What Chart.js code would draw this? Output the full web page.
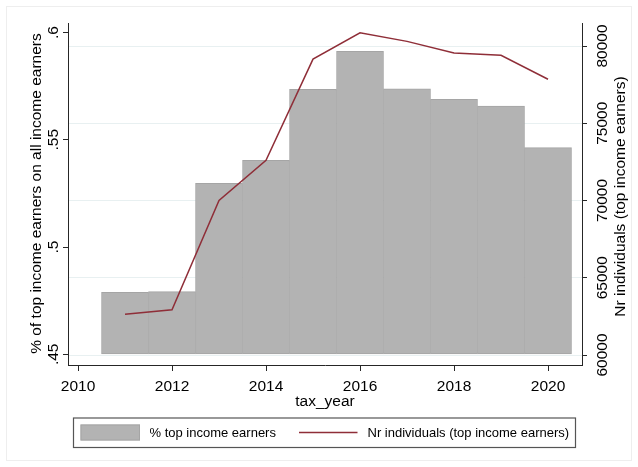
<!DOCTYPE html>
<html>
<head>
<meta charset="utf-8">
<title>Top income earners</title>
<script src="https://cdn.jsdelivr.net/npm/chart.js@4.4.0/dist/chart.umd.min.js"></script>
<style>
  body { margin: 0; background: #fff; }
  #wrap { width: 638px; height: 467px; }
</style>
</head>
<body>
<div id="wrap"><canvas id="chart" width="638" height="467"></canvas></div>
<script>
// tax years and the two series
const years = [2011, 2012, 2013, 2014, 2015, 2016, 2017, 2018, 2019, 2020];
const shareTop = [0.4789, 0.4792, 0.5297, 0.5404, 0.5735, 0.5912, 0.5738, 0.5689, 0.5657, 0.5463];
const nrTop = [62630, 62930, 70000, 72600, 79150, 80850, 80300, 79550, 79400, 77850];

// axis ticks
const yearTicks = [2010, 2012, 2014, 2016, 2018, 2020];
const shareTicks = [0.45, 0.5, 0.55, 0.6];
const shareTickLabels = ['.45', '.5', '.55', '.6'];
const nrTicks = [60000, 65000, 70000, 75000, 80000];

const shareLabel = '% top income earners';
const nrLabel = 'Nr individuals (top income earners)';
const leftTitle = '% of top income earners on all income earners';
const rightTitle = 'Nr individuals (top income earners)';
const xTitle = 'tax_year';

const FONT = "'Liberation Sans', Arial, Helvetica, sans-serif";
const AXIS = '#262626';
const GRID = '#e8f0f1';
const BAR_FILL = '#b3b3b3';
const BAR_EDGE = '#a5a5a5';
const LINE = '#8f2e38';

// white page with the faint outer frame
const background = {
  id: 'background',
  beforeDraw(chart) {
    const ctx = chart.ctx;
    ctx.save();
    ctx.fillStyle = '#fff';
    ctx.fillRect(0, 0, chart.width, chart.height);
    ctx.strokeStyle = '#eeeeee';
    ctx.lineWidth = 1;
    ctx.strokeRect(6.5, 6.5, chart.width - 13, chart.height - 13);
    ctx.restore();
  }
};

// tick labels and titles, y ones turned to read bottom-up
const axisText = {
  id: 'axisText',
  afterDraw(chart) {
    const ctx = chart.ctx;
    const { x, yL, yR } = chart.scales;
    ctx.save();
    ctx.fillStyle = '#000';
    ctx.font = '15.5px ' + FONT;
    ctx.textAlign = 'center';
    ctx.textBaseline = 'alphabetic';

    yearTicks.forEach(v => ctx.fillText(String(v), x.getPixelForValue(v), 390.5));
    ctx.fillText(xTitle, (x.left + x.right) / 2, 406);

    const upText = (txt, bx, cy) => {
      ctx.save();
      ctx.translate(bx, cy);
      ctx.rotate(-Math.PI / 2);
      ctx.fillText(txt, 0, 0);
      ctx.restore();
    };
    shareTicks.forEach((v, i) => upText(shareTickLabels[i], 57.5, yL.getPixelForValue(v)));
    nrTicks.forEach(v => upText(String(v), 607, yR.getPixelForValue(v)));
    upText(leftTitle, 40.5, 193.5);
    upText(rightTitle, 624.5, 196.5);
    ctx.restore();
  }
};

// boxed legend under the plot
const boxLegend = {
  id: 'boxLegend',
  afterDraw(chart) {
    const ctx = chart.ctx;
    const bars = chart.data.datasets[1];
    const line = chart.data.datasets[0];
    ctx.save();
    ctx.strokeStyle = '#555';
    ctx.lineWidth = 1.2;
    ctx.strokeRect(73.5, 418, 502, 29.5);

    ctx.fillStyle = bars.backgroundColor;
    ctx.fillRect(80.5, 424.5, 59.5, 16);
    ctx.strokeStyle = bars.borderColor;
    ctx.lineWidth = 1;
    ctx.strokeRect(81, 425, 58.5, 15);

    ctx.strokeStyle = line.borderColor;
    ctx.lineWidth = 1.3;
    ctx.beginPath();
    ctx.moveTo(299, 432.5);
    ctx.lineTo(357.5, 432.5);
    ctx.stroke();

    ctx.fillStyle = '#000';
    ctx.font = '13px ' + FONT;
    ctx.textBaseline = 'middle';
    ctx.textAlign = 'left';
    ctx.fillText(bars.label, 149.5, 433);
    ctx.fillText(line.label, 367.5, 433);
    ctx.restore();
  }
};

const ticksFrom = arr => scale => { scale.ticks = arr.map(v => ({ value: v })); };

new Chart(document.getElementById('chart'), {
  data: {
    datasets: [
      {
        type: 'line',
        label: nrLabel,
        data: years.map((y, i) => ({ x: y, y: nrTop[i] })),
        xAxisID: 'x',
        yAxisID: 'yR',
        borderColor: LINE,
        borderWidth: 1.5,
        pointRadius: 0,
        tension: 0,
        fill: false,
        order: 0
      },
      {
        type: 'bar',
        label: shareLabel,
        data: years.map((y, i) => ({ x: y, y: shareTop[i] })),
        xAxisID: 'x',
        yAxisID: 'yL',
        base: 0.45,
        backgroundColor: BAR_FILL,
        borderColor: BAR_EDGE,
        borderWidth: 1,
        borderSkipped: false,
        barPercentage: 1,
        categoryPercentage: 1,
        order: 1
      }
    ]
  },
  options: {
    responsive: false,
    devicePixelRatio: 1,
    animation: false,
    layout: { padding: { top: 23, left: 0, right: 0, bottom: 0 } },
    plugins: {
      legend: { display: false },
      tooltip: { enabled: false }
    },
    scales: {
      x: {
        type: 'linear',
        position: 'bottom',
        offset: false,
        min: 2009.787,
        max: 2020.723,
        afterBuildTicks: ticksFrom(yearTicks),
        afterFit: s => { s.height = 102; },
        ticks: { display: false },
        grid: { offset: false, drawOnChartArea: false, drawTicks: true, tickLength: 6, tickColor: AXIS, tickWidth: 1 },
        border: { display: true, color: AXIS, width: 1 }
      },
      yL: {
        type: 'linear',
        position: 'left',
        min: 0.44501,
        max: 0.60443,
        afterBuildTicks: ticksFrom(shareTicks),
        afterFit: s => { s.width = 68; },
        ticks: { display: false },
        grid: { drawOnChartArea: false, drawTicks: true, tickLength: 5, tickColor: AXIS, tickWidth: 1 },
        border: { display: true, color: AXIS, width: 1 }
      },
      yR: {
        type: 'linear',
        position: 'right',
        min: 59353,
        max: 81489,
        afterBuildTicks: ticksFrom(nrTicks),
        afterFit: s => { s.width = 56; },
        ticks: { display: false },
        grid: { color: GRID, lineWidth: 1, drawTicks: true, tickLength: 5, tickColor: AXIS, tickWidth: 1 },
        border: { display: true, color: AXIS, width: 1 }
      }
    }
  },
  plugins: [background, axisText, boxLegend]
});
</script>
</body>
</html>
